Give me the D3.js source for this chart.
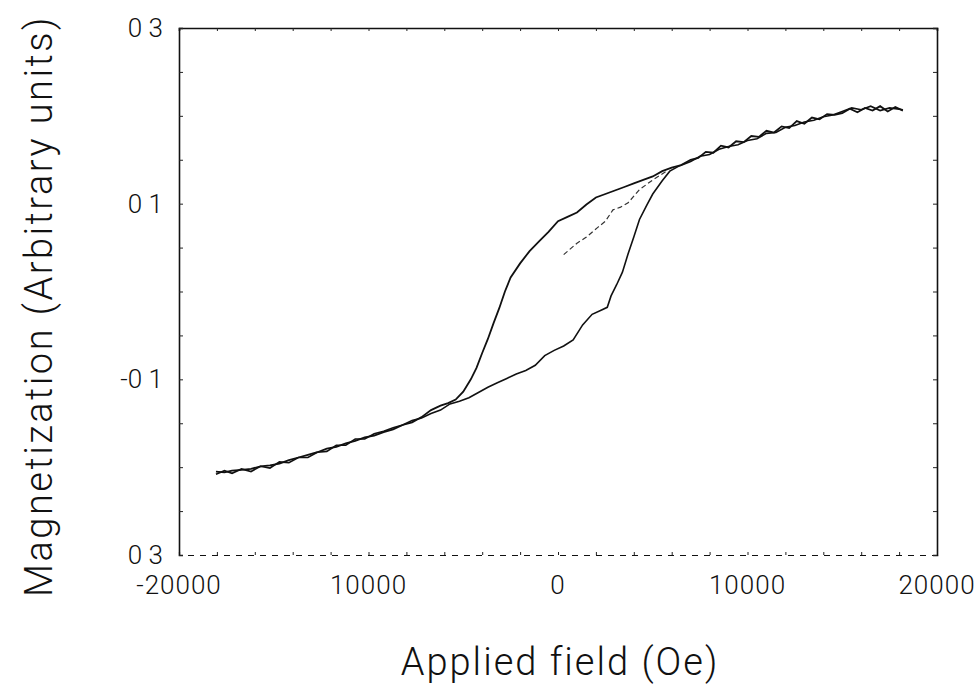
<!DOCTYPE html>
<html>
<head>
<meta charset="utf-8">
<script src="https://cdn.jsdelivr.net/npm/d3@7"></script>
<style>
  body { margin: 0; background: #fff; }
  text { font-family: Roboto, "Liberation Sans", sans-serif; font-weight: 300; fill: #111; }
</style>
</head>
<body>
<div id="chart"></div>
<script>
// hysteresis loop, values

// descending field branch (upper)
const fieldDown = [18200, 17800, 17400, 17000, 16600, 16200, 15800, 15400, 15000, 14600, 14200, 13800, 13400, 13000,
  12600, 12200, 11800, 11400, 11000, 10600, 10200, 9800, 9400, 9000, 8600, 8200, 7800, 7400, 7000, 6500, 6000, 5500,
  5000, 4500, 4000, 3500, 3000, 2500, 2000, 1500, 1000, 500, 0, -500, -1000, -1500, -2000, -2500, -2800, -3100, -3400,
  -3700, -4000, -4300, -4600, -5000, -5400, -5800, -6200, -6700, -7200, -7700, -8200, -8700, -9200, -9700, -10200,
  -10700, -11200, -11700, -12200, -12700, -13200, -13700, -14200, -14700, -15200, -15700, -16200, -16700, -17200,
  -17600, -18050];
const momentDown = [0.206, 0.210, 0.205, 0.211, 0.206, 0.209, 0.204, 0.208, 0.203, 0.201, 0.202, 0.196, 0.198, 0.191,
  0.194, 0.186, 0.188, 0.181, 0.183, 0.176, 0.177, 0.170, 0.171, 0.164, 0.166, 0.158, 0.159, 0.152, 0.150, 0.144, 0.141,
  0.137, 0.131, 0.127, 0.123, 0.119, 0.115, 0.111, 0.107, 0.099, 0.090, 0.085, 0.080, 0.068, 0.057, 0.046, 0.032, 0.016,
  0.000, -0.019, -0.036, -0.054, -0.070, -0.087, -0.100, -0.114, -0.123, -0.127, -0.130, -0.135, -0.143, -0.149, -0.152,
  -0.157, -0.160, -0.164, -0.166, -0.170, -0.173, -0.177, -0.179, -0.183, -0.186, -0.189, -0.192, -0.196, -0.198,
  -0.199, -0.202, -0.203, -0.204, -0.206, -0.205];

// ascending field branch (lower)
const fieldUp = [-18050, -17600, -17200, -16700, -16200, -15700, -15200, -14700, -14200, -13700, -13200, -12700, -12200,
  -11700, -11200, -10700, -10200, -9700, -9200, -8700, -8200, -7700, -7200, -6700, -6200, -5700, -5200, -4700, -4200,
  -3700, -3200, -2700, -2200, -1700, -1200, -700, -200, 300, 800, 1300, 1800, 2300, 2600, 2800, 3100, 3400, 3700, 4000,
  4300, 4700, 5000, 5500, 5900, 6400, 7000, 7500, 8000, 8500, 9000, 9500, 10000, 10500, 11000, 11500, 12000, 12500,
  13000, 13500, 14000, 14500, 15000, 15500, 16000, 16500, 17000, 17500, 18200];
const momentUp = [-0.208, -0.204, -0.207, -0.202, -0.205, -0.199, -0.201, -0.194, -0.195, -0.189, -0.189, -0.183, -0.182,
  -0.175, -0.175, -0.168, -0.168, -0.162, -0.159, -0.155, -0.152, -0.147, -0.144, -0.139, -0.135, -0.128, -0.125, -0.121,
  -0.115, -0.109, -0.104, -0.099, -0.094, -0.090, -0.084, -0.073, -0.067, -0.062, -0.055, -0.038, -0.026, -0.021, -0.018,
  -0.005, 0.008, 0.022, 0.043, 0.062, 0.082, 0.099, 0.111, 0.126, 0.137, 0.143, 0.148, 0.154, 0.156, 0.162, 0.165,
  0.167, 0.172, 0.174, 0.180, 0.181, 0.187, 0.189, 0.193, 0.195, 0.199, 0.201, 0.205, 0.209, 0.207, 0.211, 0.206,
  0.209, 0.207];

// faint inner curve
const fieldInner = [300, 1000, 1500, 2100, 2500, 2900, 3300, 3700, 4300, 5000, 5800];
const momentInner = [0.042, 0.055, 0.062, 0.073, 0.080, 0.093, 0.096, 0.101, 0.116, 0.127, 0.138];

// tick labels as printed on the scan
const xTicks = [-20000, -10000, 0, 10000, 20000];
const xTickLabels = ["-20000", "10000", "0", "10000", "20000"];
const yTicks = [0.3, 0.1, -0.1, -0.3];
const yTickLabels = ["0 3", "0 1", "-0 1", "0 3"];

const width = 979,
      height = 696,
      margin = ({ top: 28, right: 42, bottom: 141, left: 179 });

let svg = d3.select("#chart")
    .append("svg")
    .attr("width", width)
    .attr("height", height)
    .attr("viewBox", [0, 0, width, height]);

let x = d3.scaleLinear()
    .domain([-20000, 20000])
    .range([margin.left, width - margin.right]);

let y = d3.scaleLinear()
    .domain([-0.3, 0.3])
    .range([height - margin.bottom, margin.top]);

const minorX = d3.range(-20000, 20001, 2000),
      minorY = d3.range(-0.3, 0.3001, 0.05);

// frame with small inward ticks
svg.append("g")
    .attr("transform", `translate(0,${margin.top})`)
    .call(d3.axisTop(x).tickValues(minorX).tickSize(-3).tickFormat(""));

svg.append("g")
    .attr("class", "bottom")
    .attr("transform", `translate(0,${height - margin.bottom})`)
    .call(d3.axisBottom(x).tickValues(minorX).tickSize(-3).tickFormat(""));

svg.append("g")
    .attr("transform", `translate(${margin.left},0)`)
    .call(d3.axisLeft(y).tickValues(minorY).tickSize(-4).tickFormat(""));

svg.append("g")
    .attr("transform", `translate(${width - margin.right},0)`)
    .call(d3.axisRight(y).tickValues(minorY).tickSize(-4).tickFormat(""));

svg.selectAll(".domain").attr("stroke", "#111").attr("stroke-width", 1.6);
svg.select(".bottom .domain").attr("stroke-dasharray", "6,6").attr("stroke-width", 1.2);
svg.selectAll(".tick line").attr("stroke", "#222").attr("stroke-width", 1);

// tick labels
svg.selectAll(".xlab")
    .data(xTicks)
    .join("text")
    .attr("x", d => x(d))
    .attr("y", height - margin.bottom + 39)
    .attr("text-anchor", "middle")
    .style("font-size", "26px")
    .style("letter-spacing", "1px")
    .text((d, i) => xTickLabels[i]);

svg.selectAll(".ylab")
    .data(yTicks)
    .join("text")
    .attr("x", margin.left - 16)
    .attr("y", d => y(d) + 9)
    .attr("text-anchor", "end")
    .style("font-size", "26px")
    .text((d, i) => yTickLabels[i]);

// axis titles
svg.append("text")
    .attr("x", x(0) + 2)
    .attr("y", 675)
    .attr("text-anchor", "middle")
    .style("font-size", "38px")
    .style("letter-spacing", "2px")
    .text("Applied field (Oe)");

svg.append("text")
    .attr("transform", `translate(52,306) rotate(-90)`)
    .attr("text-anchor", "middle")
    .style("font-size", "38px")
    .style("letter-spacing", "2.5px")
    .text("Magnetization (Arbitrary units)");

// curves
let line = d3.line()
    .x(d => x(d[0]))
    .y(d => y(d[1]));

const down = d3.zip(fieldDown, momentDown),
      up = d3.zip(fieldUp, momentUp),
      inner = d3.zip(fieldInner, momentInner);

svg.append("path")
    .datum(down)
    .attr("fill", "none")
    .attr("stroke", "#111")
    .attr("stroke-width", 1.8)
    .attr("d", line);

svg.append("path")
    .datum(up)
    .attr("fill", "none")
    .attr("stroke", "#111")
    .attr("stroke-width", 1.6)
    .attr("d", line);

svg.append("path")
    .datum(inner)
    .attr("fill", "none")
    .attr("stroke", "#333")
    .attr("stroke-width", 1.2)
    .attr("stroke-dasharray", "5,3")
    .attr("d", line);
</script>
</body>
</html>
